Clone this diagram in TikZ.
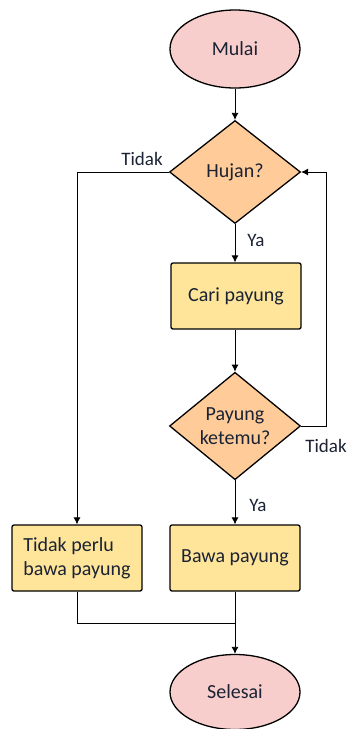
\documentclass[tikz,border=0pt]{standalone}
\usepackage{fontspec}
\setmainfont{Carlito}
\usetikzlibrary{shapes.geometric,arrows.meta}
\definecolor{mulaipink}{HTML}{F8CECC}
\definecolor{tanyaorange}{HTML}{FFCC99}
\definecolor{prosesyellow}{HTML}{FFE599}
\definecolor{teks}{HTML}{1A2233}

\tikzset{
  terminal/.style={ellipse,draw,line width=1.3pt,fill=mulaipink,minimum width=130pt,minimum height=78pt,inner sep=0pt},
  tanya/.style={diamond,draw,line width=1.3pt,fill=tanyaorange,minimum width=131pt,minimum height=103pt,inner sep=0pt,align=center},
  proses/.style={rectangle,rounded corners=2pt,draw,line width=1.3pt,fill=prosesyellow,minimum width=130pt,minimum height=66pt},
  alur/.style={line width=0.8pt,-{Latex[length=7pt,width=7pt]}},
  garis/.style={line width=0.8pt},
  ket/.style={text=teks,font=\fontsize{19}{22}\selectfont}
}

\begin{document}
\begin{tikzpicture}[x=1pt,y=-1pt,font=\fontsize{20}{24}\selectfont,text=teks]
        \useasboundingbox (0,0) rectangle (346,729);

        % shapes
        \node[terminal] (mulai) at (235,49) {Mulai};
        \node[tanya] (hujan) at (235,172) {Hujan?};
        \node[proses] (cari) at (236,296) {Cari payung};
        \node[tanya] (ketemu) at (235,426) {Payung\\ketemu?};
        \node[proses,align=left] (tidakperlu) at (77,558) {Tidak perlu\\bawa payung};
        \node[proses] (bawa) at (235,558) {Bawa payung};
        \node[terminal,minimum height=75pt] (selesai) at (235,692) {Selesai};

        % helper points
        \coordinate (balik) at (326,172);
        \coordinate (gabung) at (235,623);

        % connectors
        \draw[alur] (mulai) -- (hujan);
        \draw[alur] (hujan.west) -| (tidakperlu.north);
        \draw[alur] (hujan.south) -- (cari.north -| hujan.south);
        \draw[alur] (cari.south -| ketemu.north) -- (ketemu.north);
        \draw[alur] (ketemu.east) -| (balik) -- (hujan.east);
        \draw[alur] (ketemu.south) -- (bawa.north);
        \draw[garis] (tidakperlu.south) |- (gabung);
        \draw[alur] (bawa.south) -- (selesai.north);

        % labels
        \node[ket] (tidak1) at (142,159) {Tidak};
        \node[ket] (ya1) at (256,240) {Ya};
        \node[ket] (tidak2) at (326,446) {Tidak};
        \node[ket] (ya2) at (258,505) {Ya};

    \end{tikzpicture}
\end{document}
